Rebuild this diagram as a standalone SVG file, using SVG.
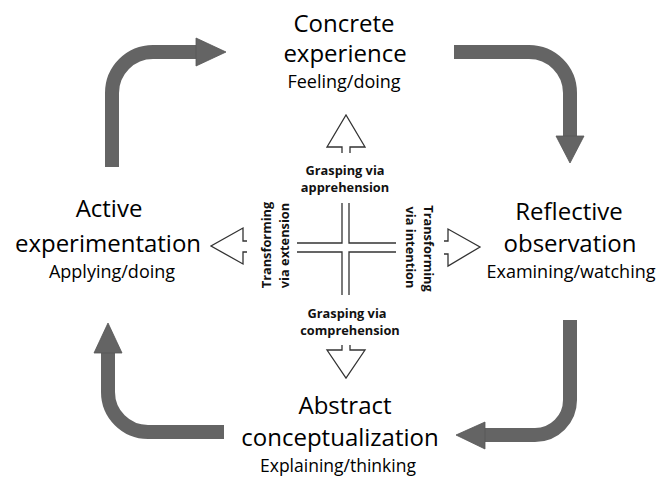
<svg xmlns="http://www.w3.org/2000/svg" width="667" height="477" viewBox="0 0 667 477">
<style>
.bg{fill:#ffffff}
.h{font-family:"Open Sans","Liberation Sans",sans-serif;font-size:24px;fill:#000;text-anchor:middle}
.s{font-family:"Open Sans","Liberation Sans",sans-serif;font-size:18px;fill:#000;text-anchor:middle}
.m{font-family:"Open Sans","Liberation Sans",sans-serif;font-size:12.8px;font-weight:bold;fill:#111;text-anchor:middle}
.shaft{fill:none;stroke:#646464;stroke-width:14}
.head{fill:#646464;stroke:#555;stroke-width:0.8}
.hollow{fill:none;stroke:#333;stroke-width:1.3;stroke-linejoin:miter}
.cross{fill:none;stroke:#333;stroke-width:1.3}
</style>
<rect class="bg" x="0" y="0" width="667" height="477"/>

<g id="connectors">
  <g id="cycle-top-left">
    <path class="shaft" d="M112,167 V93 A41,41 0 0 1 153,52 H197"/>
    <polygon class="head" points="196,38 226,52 196,66"/>
  </g>
  <g id="cycle-top-right">
    <path class="shaft" d="M454,52 H529 A41,41 0 0 1 570,93 V137"/>
    <polygon class="head" points="556,136 584,136 570,163"/>
  </g>
  <g id="cycle-bottom-right">
    <path class="shaft" d="M570,320 V400 A35,35 0 0 1 535,435 H484"/>
    <polygon class="head" points="485,422 485,449 456,435"/>
  </g>
  <g id="cycle-bottom-left">
    <path class="shaft" d="M224,432 H148 A40,40 0 0 1 108,392 V352"/>
    <polygon class="head" points="94,353 122,353 108,323"/>
  </g>
  <g id="hollow-arrows">
    <polyline class="hollow" points="342,153 342,147 327,147 346,115 365,147 350,147 350,153"/>
    <polyline class="hollow" points="342,345 342,350 327,350 346,378 365,350 350,350 350,345"/>
    <polyline class="hollow" points="247,241 243,241 243,228 211,246 243,264 243,252 247,252"/>
    <polyline class="hollow" points="444,241 448,241 448,229 480,247 448,266 448,254 444,254"/>
  </g>
  <g id="cross">
    <polyline class="cross" points="342,203 342,243 297,243"/>
    <polyline class="cross" points="349,203 349,243 396,243"/>
    <polyline class="cross" points="297,252 342,252 342,295"/>
    <polyline class="cross" points="396,252 349,252 349,295"/>
  </g>
</g>

<g id="concrete-experience">
  <text class="h" x="344" y="32">Concrete</text>
  <text class="h" x="345" y="62">experience</text>
  <text class="s" x="344" y="88">Feeling/doing</text>
</g>

<g id="reflective-observation">
  <text class="h" x="569" y="220">Reflective</text>
  <text class="h" x="570" y="252">observation</text>
  <text class="s" x="571" y="278">Examining/watching</text>
</g>

<g id="abstract-conceptualization">
  <text class="h" x="345" y="414">Abstract</text>
  <text class="h" x="340" y="445.5">conceptualization</text>
  <text class="s" x="338" y="471.5" style="font-size:17.5px">Explaining/thinking</text>
</g>

<g id="active-experimentation">
  <text class="h" x="109" y="217">Active</text>
  <text class="h" x="108" y="252">experimentation</text>
  <text class="s" x="112" y="278">Applying/doing</text>
</g>

<g id="grasping-apprehension">
  <text class="m" x="345" y="175">Grasping via</text>
  <text class="m" x="345" y="192">apprehension</text>
</g>

<g id="grasping-comprehension">
  <text class="m" x="347" y="318">Grasping via</text>
  <text class="m" x="350" y="335">comprehension</text>
</g>

<g id="transforming-extension">
  <text class="m" transform="translate(271,245) rotate(-90)" x="0" y="0">Transforming</text>
  <text class="m" transform="translate(289,245.5) rotate(-90)" x="0" y="0">via extension</text>
</g>

<g id="transforming-intention">
  <text class="m" transform="translate(424,248.5) rotate(90)" x="0" y="0">Transforming</text>
  <text class="m" transform="translate(406,247.5) rotate(90)" x="0" y="0">via intention</text>
</g>
</svg>
